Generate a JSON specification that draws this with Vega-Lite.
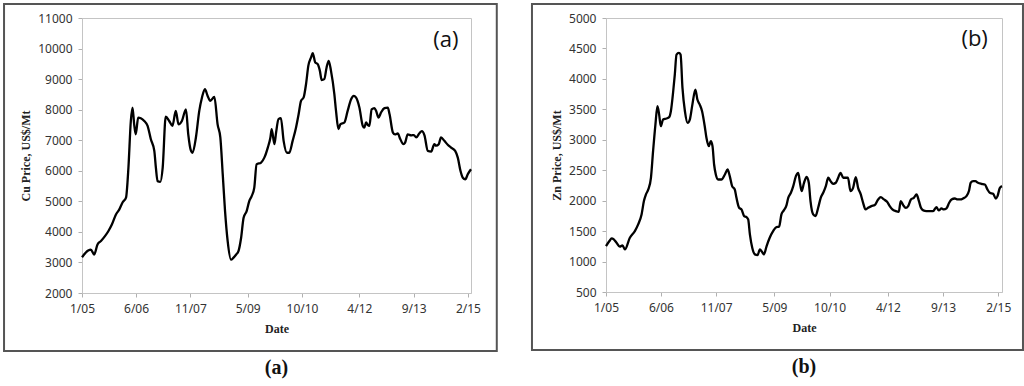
{
  "$schema": "https://vega.github.io/schema/vega-lite/v6.json",
  "padding": {"left": 2, "top": 2, "right": 2, "bottom": 2},
  "spacing": 31,
  "background": "white",
  "config": {
    "view": {"stroke": "#c4c4c4", "strokeWidth": 1},
    "axis": {
      "grid": false,
      "domainColor": "#c4c4c4",
      "tickColor": "#b0b0b0",
      "tickSize": 4,
      "labelFont": "Noto Sans",
      "labelFontSize": 12,
      "labelColor": "#333333",
      "labelOverlap": false,
      "titleFont": "Liberation Serif",
      "titleFontSize": 12,
      "titleFontWeight": "bold",
      "titleColor": "#222222"
    }
  },
  "datasets": {
    "cu": [
      {"date": "2005-01-01", "price": 3170}, {"date": "2005-03-01", "price": 3390}, {"date": "2005-03-26", "price": 3420},
      {"date": "2005-04-27", "price": 3260}, {"date": "2005-05-29", "price": 3590}, {"date": "2005-07-01", "price": 3700},
      {"date": "2005-08-08", "price": 3860}, {"date": "2005-09-09", "price": 4020}, {"date": "2005-10-13", "price": 4240},
      {"date": "2005-11-21", "price": 4570}, {"date": "2005-12-22", "price": 4730}, {"date": "2006-01-24", "price": 4970},
      {"date": "2006-02-25", "price": 5120}, {"date": "2006-03-20", "price": 6100}, {"date": "2006-04-12", "price": 7630},
      {"date": "2006-04-28", "price": 8070}, {"date": "2006-05-14", "price": 7520}, {"date": "2006-05-29", "price": 7190},
      {"date": "2006-06-21", "price": 7740}, {"date": "2006-07-16", "price": 7720}, {"date": "2006-08-18", "price": 7630},
      {"date": "2006-09-19", "price": 7470}, {"date": "2006-10-20", "price": 7030}, {"date": "2006-11-22", "price": 6650},
      {"date": "2006-12-07", "price": 6100}, {"date": "2006-12-23", "price": 5660}, {"date": "2007-01-18", "price": 5640},
      {"date": "2007-02-10", "price": 6100}, {"date": "2007-03-11", "price": 7770}, {"date": "2007-04-13", "price": 7630},
      {"date": "2007-05-14", "price": 7470}, {"date": "2007-06-15", "price": 7960}, {"date": "2007-07-11", "price": 7520},
      {"date": "2007-08-12", "price": 7630}, {"date": "2007-09-20", "price": 8010}, {"date": "2007-10-12", "price": 7190},
      {"date": "2007-11-07", "price": 6650}, {"date": "2007-11-22", "price": 6590}, {"date": "2007-12-24", "price": 7090},
      {"date": "2008-01-25", "price": 7960}, {"date": "2008-02-20", "price": 8400}, {"date": "2008-03-19", "price": 8670},
      {"date": "2008-04-14", "price": 8450}, {"date": "2008-05-09", "price": 8290}, {"date": "2008-06-17", "price": 8420},
      {"date": "2008-07-18", "price": 7520}, {"date": "2008-08-13", "price": 7090}, {"date": "2008-09-05", "price": 5880},
      {"date": "2008-09-27", "price": 4680}, {"date": "2008-10-22", "price": 3700}, {"date": "2008-11-23", "price": 3090},
      {"date": "2008-12-15", "price": 3150}, {"date": "2009-01-11", "price": 3260}, {"date": "2009-02-02", "price": 3370},
      {"date": "2009-02-27", "price": 3800}, {"date": "2009-03-23", "price": 4460}, {"date": "2009-04-21", "price": 4680},
      {"date": "2009-05-16", "price": 5010}, {"date": "2009-06-08", "price": 5170}, {"date": "2009-07-03", "price": 5450},
      {"date": "2009-07-25", "price": 6210}, {"date": "2009-09-06", "price": 6270}, {"date": "2009-10-07", "price": 6430},
      {"date": "2009-11-09", "price": 6760}, {"date": "2009-12-04", "price": 7090}, {"date": "2009-12-16", "price": 7360},
      {"date": "2010-01-11", "price": 6870}, {"date": "2010-01-27", "price": 7250}, {"date": "2010-02-19", "price": 7690},
      {"date": "2010-03-14", "price": 7720}, {"date": "2010-04-09", "price": 6980}, {"date": "2010-05-11", "price": 6590},
      {"date": "2010-06-02", "price": 6590}, {"date": "2010-07-04", "price": 6980}, {"date": "2010-08-05", "price": 7410},
      {"date": "2010-08-30", "price": 7850}, {"date": "2010-09-22", "price": 8290}, {"date": "2010-10-17", "price": 8400},
      {"date": "2010-11-09", "price": 8840}, {"date": "2010-12-01", "price": 9440}, {"date": "2010-12-27", "price": 9710},
      {"date": "2011-01-12", "price": 9850}, {"date": "2011-02-04", "price": 9550}, {"date": "2011-02-28", "price": 9490},
      {"date": "2011-03-21", "price": 9270}, {"date": "2011-04-07", "price": 8970}, {"date": "2011-05-02", "price": 9000},
      {"date": "2011-05-24", "price": 9380}, {"date": "2011-06-13", "price": 9600}, {"date": "2011-07-05", "price": 9270},
      {"date": "2011-08-06", "price": 8510}, {"date": "2011-08-22", "price": 7960}, {"date": "2011-09-14", "price": 7360},
      {"date": "2011-10-02", "price": 7520}, {"date": "2011-11-10", "price": 7580}, {"date": "2011-12-11", "price": 7960},
      {"date": "2012-01-13", "price": 8340}, {"date": "2012-02-07", "price": 8450}, {"date": "2012-02-28", "price": 8400},
      {"date": "2012-04-01", "price": 8070}, {"date": "2012-05-03", "price": 7470}, {"date": "2012-05-18", "price": 7410},
      {"date": "2012-06-04", "price": 7580}, {"date": "2012-06-20", "price": 7500}, {"date": "2012-07-05", "price": 7470},
      {"date": "2012-07-27", "price": 8010}, {"date": "2012-08-22", "price": 8050}, {"date": "2012-09-08", "price": 7960},
      {"date": "2012-09-30", "price": 7740}, {"date": "2012-10-25", "price": 7910}, {"date": "2012-11-26", "price": 8050},
      {"date": "2012-12-28", "price": 8070}, {"date": "2013-01-14", "price": 7850}, {"date": "2013-02-15", "price": 7250},
      {"date": "2013-03-07", "price": 7190}, {"date": "2013-04-02", "price": 7220}, {"date": "2013-04-27", "price": 7030},
      {"date": "2013-05-26", "price": 6870}, {"date": "2013-06-11", "price": 6920}, {"date": "2013-07-06", "price": 7190},
      {"date": "2013-08-08", "price": 7160}, {"date": "2013-09-03", "price": 7170}, {"date": "2013-09-25", "price": 7090},
      {"date": "2013-10-26", "price": 7230}, {"date": "2013-11-18", "price": 7300}, {"date": "2013-12-13", "price": 7160},
      {"date": "2014-01-14", "price": 6650}, {"date": "2014-02-15", "price": 6630}, {"date": "2014-03-17", "price": 6870},
      {"date": "2014-04-03", "price": 6820}, {"date": "2014-04-28", "price": 6870}, {"date": "2014-05-20", "price": 7090},
      {"date": "2014-06-21", "price": 6980}, {"date": "2014-07-23", "price": 6850}, {"date": "2014-08-24", "price": 6760},
      {"date": "2014-10-02", "price": 6650}, {"date": "2014-10-27", "price": 6430}, {"date": "2014-11-22", "price": 5990},
      {"date": "2014-12-14", "price": 5770}, {"date": "2015-01-06", "price": 5720}, {"date": "2015-02-01", "price": 5900},
      {"date": "2015-03-02", "price": 6050}
    ],
    "zn": [
      {"date": "2005-01-01", "price": 1255}, {"date": "2005-02-02", "price": 1337}, {"date": "2005-02-23", "price": 1380},
      {"date": "2005-03-15", "price": 1364}, {"date": "2005-04-10", "price": 1309}, {"date": "2005-05-11", "price": 1244},
      {"date": "2005-06-05", "price": 1266}, {"date": "2005-06-27", "price": 1200}, {"date": "2005-08-13", "price": 1391},
      {"date": "2005-09-29", "price": 1500}, {"date": "2005-10-30", "price": 1610}, {"date": "2005-12-01", "price": 1774},
      {"date": "2005-12-23", "price": 1993}, {"date": "2006-01-11", "price": 2102}, {"date": "2006-02-02", "price": 2184},
      {"date": "2006-02-27", "price": 2376}, {"date": "2006-03-19", "price": 2813}, {"date": "2006-04-10", "price": 3250},
      {"date": "2006-04-29", "price": 3551}, {"date": "2006-05-15", "price": 3414}, {"date": "2006-05-30", "price": 3223},
      {"date": "2006-06-21", "price": 3332}, {"date": "2006-07-22", "price": 3349}, {"date": "2006-08-17", "price": 3371},
      {"date": "2006-09-02", "price": 3469}, {"date": "2006-09-24", "price": 3797}, {"date": "2006-10-09", "price": 4070},
      {"date": "2006-10-25", "price": 4399}, {"date": "2006-11-16", "price": 4426}, {"date": "2006-12-02", "price": 4399},
      {"date": "2006-12-20", "price": 3852}, {"date": "2007-01-12", "price": 3469}, {"date": "2007-02-06", "price": 3278},
      {"date": "2007-02-27", "price": 3332}, {"date": "2007-03-23", "price": 3578}, {"date": "2007-04-20", "price": 3824},
      {"date": "2007-05-09", "price": 3661}, {"date": "2007-05-31", "price": 3578}, {"date": "2007-06-22", "price": 3469},
      {"date": "2007-07-17", "price": 3223}, {"date": "2007-08-02", "price": 3032}, {"date": "2007-08-24", "price": 2895},
      {"date": "2007-09-12", "price": 2977}, {"date": "2007-09-28", "price": 2895}, {"date": "2007-10-13", "price": 2594},
      {"date": "2007-10-29", "price": 2430}, {"date": "2007-11-20", "price": 2348}, {"date": "2007-12-21", "price": 2348},
      {"date": "2008-01-22", "price": 2430}, {"date": "2008-02-16", "price": 2512}, {"date": "2008-03-08", "price": 2403},
      {"date": "2008-03-30", "price": 2239}, {"date": "2008-04-24", "price": 2184}, {"date": "2008-05-10", "price": 2047},
      {"date": "2008-06-04", "price": 1883}, {"date": "2008-06-26", "price": 1856}, {"date": "2008-07-21", "price": 1747},
      {"date": "2008-08-12", "price": 1730}, {"date": "2008-08-28", "price": 1692}, {"date": "2008-09-13", "price": 1446},
      {"date": "2008-10-05", "price": 1227}, {"date": "2008-10-30", "price": 1118}, {"date": "2008-11-24", "price": 1107},
      {"date": "2008-12-16", "price": 1200}, {"date": "2009-01-04", "price": 1162}, {"date": "2009-01-23", "price": 1118},
      {"date": "2009-02-17", "price": 1255}, {"date": "2009-03-18", "price": 1391}, {"date": "2009-04-19", "price": 1500},
      {"date": "2009-05-20", "price": 1566}, {"date": "2009-06-14", "price": 1572}, {"date": "2009-07-06", "price": 1774},
      {"date": "2009-07-28", "price": 1840}, {"date": "2009-08-23", "price": 1927}, {"date": "2009-09-08", "price": 2047},
      {"date": "2009-10-03", "price": 2129}, {"date": "2009-10-25", "price": 2239}, {"date": "2009-11-19", "price": 2403},
      {"date": "2009-12-11", "price": 2458}, {"date": "2009-12-27", "price": 2294}, {"date": "2010-01-12", "price": 2157},
      {"date": "2010-02-03", "price": 2294}, {"date": "2010-02-28", "price": 2392}, {"date": "2010-03-20", "price": 2294},
      {"date": "2010-04-05", "price": 1993}, {"date": "2010-04-30", "price": 1774}, {"date": "2010-05-22", "price": 1747},
      {"date": "2010-06-16", "price": 1883}, {"date": "2010-07-10", "price": 2047}, {"date": "2010-08-02", "price": 2129},
      {"date": "2010-08-27", "price": 2239}, {"date": "2010-09-18", "price": 2376}, {"date": "2010-10-10", "price": 2321},
      {"date": "2010-11-04", "price": 2277}, {"date": "2010-11-29", "price": 2294}, {"date": "2010-12-21", "price": 2376},
      {"date": "2011-01-12", "price": 2458}, {"date": "2011-02-07", "price": 2376}, {"date": "2011-02-28", "price": 2376},
      {"date": "2011-03-23", "price": 2376}, {"date": "2011-04-15", "price": 2157}, {"date": "2011-05-10", "price": 2211},
      {"date": "2011-06-04", "price": 2386}, {"date": "2011-06-26", "price": 2211}, {"date": "2011-07-21", "price": 2102},
      {"date": "2011-08-12", "price": 1965}, {"date": "2011-09-04", "price": 1856}, {"date": "2011-09-28", "price": 1883},
      {"date": "2011-10-29", "price": 1911}, {"date": "2011-11-30", "price": 1927}, {"date": "2011-12-31", "price": 2020},
      {"date": "2012-01-25", "price": 2058}, {"date": "2012-02-23", "price": 2020}, {"date": "2012-03-24", "price": 1982},
      {"date": "2012-04-18", "price": 1911}, {"date": "2012-05-13", "price": 1856}, {"date": "2012-06-14", "price": 1829},
      {"date": "2012-07-12", "price": 1818}, {"date": "2012-07-30", "price": 1993}, {"date": "2012-08-22", "price": 1927},
      {"date": "2012-09-16", "price": 1883}, {"date": "2012-10-08", "price": 1911}, {"date": "2012-11-03", "price": 2020},
      {"date": "2012-11-30", "price": 2047}, {"date": "2012-12-26", "price": 2102}, {"date": "2013-01-17", "price": 1993},
      {"date": "2013-02-05", "price": 1883}, {"date": "2013-02-27", "price": 1840}, {"date": "2013-03-28", "price": 1829},
      {"date": "2013-04-29", "price": 1829}, {"date": "2013-05-30", "price": 1829}, {"date": "2013-06-30", "price": 1894},
      {"date": "2013-07-22", "price": 1840}, {"date": "2013-08-17", "price": 1873}, {"date": "2013-09-08", "price": 1856},
      {"date": "2013-10-03", "price": 1873}, {"date": "2013-10-28", "price": 1965}, {"date": "2013-11-19", "price": 2020},
      {"date": "2013-12-20", "price": 2036}, {"date": "2014-01-15", "price": 2020}, {"date": "2014-02-12", "price": 2020},
      {"date": "2014-03-07", "price": 2036}, {"date": "2014-04-08", "price": 2075}, {"date": "2014-05-03", "price": 2168},
      {"date": "2014-05-18", "price": 2294}, {"date": "2014-06-10", "price": 2321}, {"date": "2014-07-01", "price": 2321},
      {"date": "2014-07-26", "price": 2294}, {"date": "2014-08-27", "price": 2277}, {"date": "2014-09-28", "price": 2266},
      {"date": "2014-10-22", "price": 2184}, {"date": "2014-11-14", "price": 2129}, {"date": "2014-12-15", "price": 2113},
      {"date": "2015-01-09", "price": 2036}, {"date": "2015-01-25", "price": 2075}, {"date": "2015-02-16", "price": 2211},
      {"date": "2015-03-08", "price": 2239}
    ]
  },
  "hconcat": [
    {
      "width": 389,
      "height": 275,
      "title": {"text": "(a)", "orient": "bottom", "anchor": "middle", "font": "Liberation Serif", "fontSize": 20, "fontWeight": "bold", "color": "#111111", "offset": 6},
      "layer": [
        {
          "data": {"name": "cu"},
          "mark": {"type": "line", "color": "#000000", "strokeWidth": 2.3, "interpolate": "monotone"},
          "encoding": {
            "x": {
              "field": "date", "type": "temporal",
              "scale": {"type": "utc", "domain": [{"year": 2005, "month": 1, "date": 1, "utc": true}, {"year": 2015, "month": 3, "date": 2, "utc": true}], "nice": false},
              "axis": {
                "title": "Date", "format": "%-m/%y", "labelFlush": false, "labelOverlap": false, "labelPadding": 6, "titlePadding": 9,
                "values": [
                  {"year": 2005, "month": 1, "date": 1, "utc": true}, {"year": 2006, "month": 6, "date": 1, "utc": true},
                  {"year": 2007, "month": 11, "date": 1, "utc": true}, {"year": 2009, "month": 5, "date": 1, "utc": true},
                  {"year": 2010, "month": 10, "date": 1, "utc": true}, {"year": 2012, "month": 4, "date": 1, "utc": true},
                  {"year": 2013, "month": 9, "date": 1, "utc": true}, {"year": 2015, "month": 2, "date": 1, "utc": true}
                ]
              }
            },
            "y": {
              "field": "price", "type": "quantitative",
              "scale": {"domain": [2000, 11000], "nice": false, "zero": false},
              "axis": {"title": "Cu Price, US$/Mt", "format": "d", "labelOverlap": false, "tickCount": 10, "values": [2000, 3000, 4000, 5000, 6000, 7000, 8000, 9000, 10000, 11000], "labelPadding": 6, "titlePadding": 5}
            }
          }
        },
        {
          "data": {"values": [{}]},
          "mark": {"type": "rect", "fill": null, "stroke": "#555555", "strokeWidth": 2},
          "encoding": {
            "x": {"datum": {"year": 2002, "month": 12, "date": 19, "utc": true}, "type": "temporal",
                  "scale": {"type": "utc", "domain": [{"year": 2005, "month": 1, "date": 1, "utc": true}, {"year": 2015, "month": 3, "date": 2, "utc": true}], "nice": false}},
            "x2": {"datum": {"year": 2015, "month": 11, "date": 3, "utc": true}},
            "y": {"datum": 11458, "type": "quantitative", "scale": {"domain": [2000, 11000], "nice": false, "zero": false},
                  "axis": {"title": "Cu Price, US$/Mt", "format": "d", "labelOverlap": false, "tickCount": 10, "values": [2000, 3000, 4000, 5000, 6000, 7000, 8000, 9000, 10000, 11000], "labelPadding": 6, "titlePadding": 5}},
            "y2": {"datum": 102}
          }
        },
        {
          "data": {"values": [{}]},
          "mark": {"type": "text", "text": "(a)", "font": "Open Sans", "fontSize": 22, "color": "#111111", "align": "center", "baseline": "middle"},
          "encoding": {
            "x": {"datum": {"year": 2014, "month": 7, "date": 5, "utc": true}, "type": "temporal"},
            "y": {"datum": 10280, "type": "quantitative",
                  "axis": {"title": "Cu Price, US$/Mt", "format": "d", "labelOverlap": false, "tickCount": 10, "values": [2000, 3000, 4000, 5000, 6000, 7000, 8000, 9000, 10000, 11000], "labelPadding": 6, "titlePadding": 5}}
          }
        }
      ]
    },
    {
      "width": 396,
      "height": 274,
      "title": {"text": "(b)", "orient": "bottom", "anchor": "middle", "font": "Liberation Serif", "fontSize": 20, "fontWeight": "bold", "color": "#111111", "offset": 6},
      "layer": [
        {
          "data": {"name": "zn"},
          "mark": {"type": "line", "color": "#000000", "strokeWidth": 2.3, "interpolate": "monotone"},
          "encoding": {
            "x": {
              "field": "date", "type": "temporal",
              "scale": {"type": "utc", "domain": [{"year": 2005, "month": 1, "date": 1, "utc": true}, {"year": 2015, "month": 3, "date": 8, "utc": true}], "nice": false},
              "axis": {
                "title": "Date", "format": "%-m/%y", "labelFlush": false, "labelOverlap": false, "labelPadding": 6, "titlePadding": 9,
                "values": [
                  {"year": 2005, "month": 1, "date": 1, "utc": true}, {"year": 2006, "month": 6, "date": 1, "utc": true},
                  {"year": 2007, "month": 11, "date": 1, "utc": true}, {"year": 2009, "month": 5, "date": 1, "utc": true},
                  {"year": 2010, "month": 10, "date": 1, "utc": true}, {"year": 2012, "month": 4, "date": 1, "utc": true},
                  {"year": 2013, "month": 9, "date": 1, "utc": true}, {"year": 2015, "month": 2, "date": 1, "utc": true}
                ]
              }
            },
            "y": {
              "field": "price", "type": "quantitative",
              "scale": {"domain": [500, 5000], "nice": false, "zero": false},
              "axis": {"title": "Zn Price, US$/Mt", "format": "d", "labelOverlap": false, "tickCount": 10, "values": [500, 1000, 1500, 2000, 2500, 3000, 3500, 4000, 4500, 5000], "labelPadding": 6, "titlePadding": 5}
            }
          }
        },
        {
          "data": {"values": [{}]},
          "mark": {"type": "rect", "fill": null, "stroke": "#555555", "strokeWidth": 2},
          "encoding": {
            "x": {"datum": {"year": 2003, "month": 2, "date": 6, "utc": true}, "type": "temporal",
                  "scale": {"type": "utc", "domain": [{"year": 2005, "month": 1, "date": 1, "utc": true}, {"year": 2015, "month": 3, "date": 8, "utc": true}], "nice": false}},
            "x2": {"datum": {"year": 2015, "month": 9, "date": 21, "utc": true}},
            "y": {"datum": 5230, "type": "quantitative", "scale": {"domain": [500, 5000], "nice": false, "zero": false},
                  "axis": {"title": "Zn Price, US$/Mt", "format": "d", "labelOverlap": false, "tickCount": 10, "values": [500, 1000, 1500, 2000, 2500, 3000, 3500, 4000, 4500, 5000], "labelPadding": 6, "titlePadding": 5}},
            "y2": {"datum": -453}
          }
        },
        {
          "data": {"values": [{}]},
          "mark": {"type": "text", "text": "(b)", "font": "Open Sans", "fontSize": 22, "color": "#111111", "align": "center", "baseline": "middle"},
          "encoding": {
            "x": {"datum": {"year": 2014, "month": 6, "date": 24, "utc": true}, "type": "temporal"},
            "y": {"datum": 4655, "type": "quantitative",
                  "axis": {"title": "Zn Price, US$/Mt", "format": "d", "labelOverlap": false, "tickCount": 10, "values": [500, 1000, 1500, 2000, 2500, 3000, 3500, 4000, 4500, 5000], "labelPadding": 6, "titlePadding": 5}}
          }
        }
      ]
    }
  ]
}
